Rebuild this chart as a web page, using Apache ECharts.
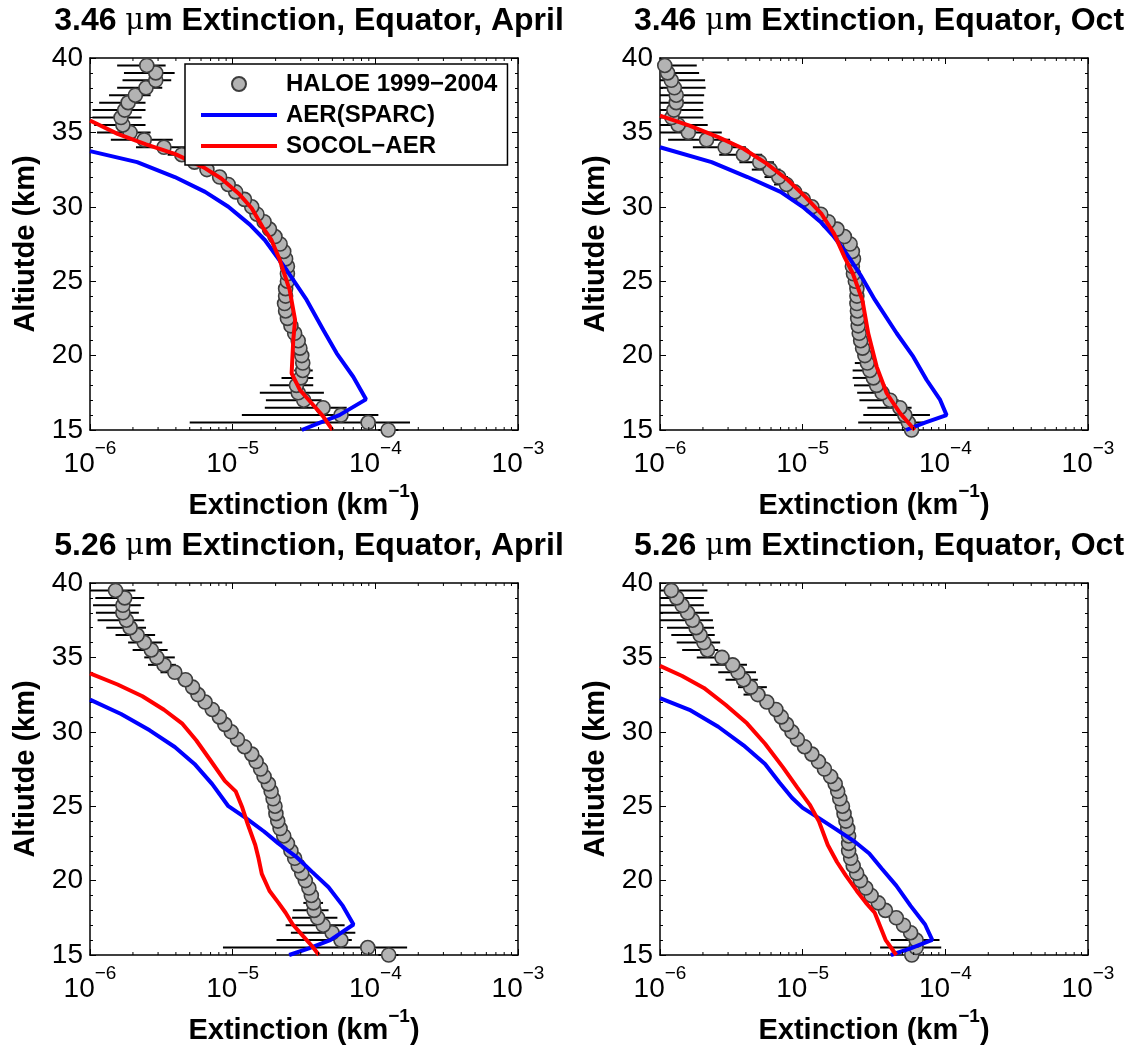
<!DOCTYPE html>
<html>
<head>
<meta charset="utf-8">
<script src="https://cdn.jsdelivr.net/npm/echarts@6/dist/echarts.min.js"></script>
<style>
  html, body { margin: 0; padding: 0; background: #ffffff; }
  #chart { width: 1126px; height: 1051px; }
</style>
</head>
<body>
<div id="chart"></div>
<script>
// HALOE retrieval altitudes (km)
const altitude = [15.0, 15.5, 16.0, 16.5, 17.0, 17.5, 18.0, 18.5, 19.0, 19.5,
  20.0, 20.5, 21.0, 21.5, 22.0, 22.5, 23.0, 23.5, 24.0, 24.5,
  25.0, 25.5, 26.0, 26.5, 27.0, 27.5, 28.0, 28.5, 29.0, 29.5,
  30.0, 30.5, 31.0, 31.5, 32.0, 32.5, 33.0, 33.5, 34.0, 34.5,
  35.0, 35.5, 36.0, 36.5, 37.0, 37.5, 38.0, 38.5, 39.0, 39.5];

// 3.46 um, April: HALOE mean extinction (km^-1) and its low / high range
const haloe346Apr = [1.23e-4, 8.9e-5, 5.75e-5, 4.3e-5, 3.15e-5, 2.88e-5, 2.8e-5, 3.0e-5, 3.1e-5, 3.1e-5,
  3.05e-5, 2.96e-5, 2.88e-5, 2.72e-5, 2.56e-5, 2.42e-5, 2.35e-5, 2.31e-5, 2.35e-5, 2.35e-5,
  2.42e-5, 2.42e-5, 2.42e-5, 2.35e-5, 2.28e-5, 2.15e-5, 1.98e-5, 1.81e-5, 1.66e-5, 1.48e-5,
  1.36e-5, 1.21e-5, 1.05e-5, 9.3e-6, 8.1e-6, 6.6e-6, 5.4e-6, 4.4e-6, 3.3e-6, 2.4e-6,
  1.91e-6, 1.7e-6, 1.65e-6, 1.75e-6, 1.85e-6, 2.08e-6, 2.47e-6, 2.89e-6, 2.89e-6, 2.5e-6];
const haloe346AprLow = [1.05e-4, 5.0e-6, 1.16e-5, 1.68e-5, 1.71e-5, 1.55e-5, 1.82e-5, 2.2e-5, 2.7e-5, 2.8e-5,
  2.8e-5, 2.7e-5, 2.65e-5, 2.5e-5, 2.35e-5, 2.22e-5, 2.16e-5, 2.12e-5, 2.16e-5, 2.16e-5,
  2.22e-5, 2.22e-5, 2.22e-5, 2.16e-5, 2.1e-5, 1.97e-5, 1.82e-5, 1.66e-5, 1.52e-5, 1.36e-5,
  1.25e-5, 1.11e-5, 9.6e-6, 8.5e-6, 7.4e-6, 6.0e-6, 4.8e-6, 3.5e-6, 2.1e-6, 1.4e-6,
  1.12e-6, 1.07e-6, 1.04e-6, 1.04e-6, 1.16e-6, 1.36e-6, 1.55e-6, 1.69e-6, 1.73e-6, 1.55e-6];
const haloe346AprHigh = [1.45e-4, 1.75e-4, 1.05e-4, 6.3e-5, 4.2e-5, 4.36e-5, 3.67e-5, 3.67e-5, 3.64e-5, 3.4e-5,
  3.3e-5, 3.2e-5, 3.1e-5, 2.95e-5, 2.78e-5, 2.63e-5, 2.55e-5, 2.5e-5, 2.55e-5, 2.55e-5,
  2.63e-5, 2.63e-5, 2.63e-5, 2.55e-5, 2.48e-5, 2.34e-5, 2.15e-5, 1.97e-5, 1.8e-5, 1.61e-5,
  1.48e-5, 1.32e-5, 1.15e-5, 1.02e-5, 8.9e-6, 7.3e-6, 6.1e-6, 5.5e-6, 5.2e-6, 3.8e-6,
  2.66e-6, 2.45e-6, 2.3e-6, 2.45e-6, 2.45e-6, 2.66e-6, 3.21e-6, 3.71e-6, 3.92e-6, 3.39e-6];
const aer346AprAlt = [15.0, 15.5, 16.0, 17.06, 18.58, 20.15, 21.72, 23.74, 25.75, 27.77, 28.8, 30.0, 31.0, 32.0, 33.0, 33.74];
const aer346AprExt = [3.05e-5, 4.1e-5, 5.6e-5, 8.6e-5, 7.0e-5, 5.36e-5, 4.32e-5, 3.3e-5, 2.39e-5, 1.68e-5, 1.32e-5, 9.33e-6, 6.41e-6, 3.93e-6, 2.14e-6, 1.0e-6];
const socol346AprAlt = [15.0, 15.9, 16.68, 17.69, 18.81, 21.05, 22.39, 24.4, 26.42, 27.77, 28.64, 29.9, 30.9, 31.9, 32.67, 33.56, 34.2, 34.9, 35.8];
const socol346AprExt = [5.0e-5, 4.32e-5, 3.67e-5, 2.96e-5, 2.59e-5, 2.66e-5, 2.74e-5, 2.51e-5, 2.14e-5, 1.87e-5, 1.62e-5, 1.36e-5, 1.1e-5, 8.32e-6, 6.22e-6, 3.93e-6, 2.47e-6, 1.56e-6, 1.0e-6];

// 3.46 um, October
const haloe346Oct = [5.8e-5, 5.5e-5, 5.2e-5, 4.8e-5, 4.1e-5, 3.6e-5, 3.3e-5, 3.13e-5, 2.96e-5, 2.84e-5,
  2.73e-5, 2.63e-5, 2.55e-5, 2.49e-5, 2.45e-5, 2.43e-5, 2.42e-5, 2.4e-5, 2.4e-5, 2.4e-5,
  2.34e-5, 2.27e-5, 2.23e-5, 2.27e-5, 2.23e-5, 2.15e-5, 1.96e-5, 1.74e-5, 1.51e-5, 1.34e-5,
  1.16e-5, 1.01e-5, 8.8e-6, 7.7e-6, 6.8e-6, 5.9e-6, 5.0e-6, 3.84e-6, 2.86e-6, 2.12e-6,
  1.58e-6, 1.34e-6, 1.21e-6, 1.25e-6, 1.3e-6, 1.3e-6, 1.26e-6, 1.2e-6, 1.13e-6, 1.08e-6];
const haloe346OctLow = [5.0e-5, 2.45e-5, 2.66e-5, 2.84e-5, 2.5e-5, 2.41e-5, 2.29e-5, 2.24e-5, 2.24e-5, 2.32e-5,
  2.5e-5, 2.42e-5, 2.35e-5, 2.29e-5, 2.25e-5, 2.24e-5, 2.23e-5, 2.21e-5, 2.21e-5, 2.21e-5,
  2.15e-5, 2.09e-5, 2.05e-5, 2.09e-5, 2.05e-5, 1.98e-5, 1.8e-5, 1.6e-5, 1.39e-5, 1.23e-5,
  1.06e-5, 9.2e-6, 8.0e-6, 6.3e-6, 5.4e-6, 4.4e-6, 3.6e-6, 2.6e-6, 1.7e-6, 1.14e-6,
  1.0e-6, 1.0e-6, 1.0e-6, 1.0e-6, 1.0e-6, 1.0e-6, 1.0e-6, 1.0e-6, 1.0e-6, 1.0e-6];
const haloe346OctHigh = [6.6e-5, 7.0e-5, 7.8e-5, 5.8e-5, 4.7e-5, 4.1e-5, 3.8e-5, 3.6e-5, 3.4e-5, 3.25e-5,
  3.0e-5, 2.86e-5, 2.77e-5, 2.7e-5, 2.66e-5, 2.64e-5, 2.63e-5, 2.61e-5, 2.61e-5, 2.61e-5,
  2.54e-5, 2.46e-5, 2.42e-5, 2.46e-5, 2.42e-5, 2.34e-5, 2.13e-5, 1.9e-5, 1.65e-5, 1.46e-5,
  1.27e-5, 1.1e-5, 9.6e-6, 8.6e-6, 7.9e-6, 7.0e-6, 6.3e-6, 5.2e-6, 4.0e-6, 3.1e-6,
  2.71e-6, 2.16e-6, 2.01e-6, 2.01e-6, 2.01e-6, 2.04e-6, 2.09e-6, 2.07e-6, 1.88e-6, 1.81e-6];
const aer346OctAlt = [15.0, 15.5, 16.0, 17.02, 18.36, 19.93, 21.5, 23.74, 25.4, 26.4, 27.3, 28.1, 29.0, 30.0, 31.0, 32.0, 33.0, 34.0];
const aer346OctExt = [5.3e-5, 7.2e-5, 1.02e-4, 9.2e-5, 7.4e-5, 5.96e-5, 4.56e-5, 3.21e-5, 2.55e-5, 2.18e-5, 1.88e-5, 1.62e-5, 1.33e-5, 1.0e-5, 7.0e-6, 4.1e-6, 2.3e-6, 1.0e-6];
const socol346OctAlt = [15.0, 16.13, 17.47, 19.26, 21.5, 23.74, 25.5, 26.6, 28.2, 29.5, 30.65, 31.77, 32.9, 33.9, 34.68, 35.46, 36.13];
const socol346OctExt = [6.1e-5, 4.81e-5, 3.88e-5, 3.3e-5, 2.88e-5, 2.62e-5, 2.25e-5, 1.97e-5, 1.66e-5, 1.36e-5, 1.05e-5, 7.94e-6, 5.6e-6, 3.85e-6, 2.56e-6, 1.61e-6, 1.0e-6];

// 5.26 um, April
const haloe526Apr = [1.24e-4, 8.85e-5, 5.74e-5, 4.98e-5, 4.31e-5, 3.94e-5, 3.72e-5, 3.68e-5, 3.56e-5, 3.42e-5,
  3.23e-5, 3.05e-5, 2.88e-5, 2.72e-5, 2.56e-5, 2.42e-5, 2.28e-5, 2.15e-5, 2.07e-5, 2.01e-5,
  1.98e-5, 1.92e-5, 1.86e-5, 1.78e-5, 1.66e-5, 1.57e-5, 1.46e-5, 1.36e-5, 1.21e-5, 1.08e-5,
  9.77e-6, 8.81e-6, 8.07e-6, 7.19e-6, 6.41e-6, 5.71e-6, 5.24e-6, 4.67e-6, 3.93e-6, 3.3e-6,
  2.94e-6, 2.69e-6, 2.4e-6, 2.14e-6, 1.91e-6, 1.8e-6, 1.7e-6, 1.7e-6, 1.75e-6, 1.51e-6];
const haloe526AprLow = [1.05e-4, 8.55e-6, 2.03e-5, 2.56e-5, 2.35e-5, 2.61e-5, 2.64e-5, 3.13e-5, 3.2e-5, 3.1e-5,
  2.95e-5, 2.78e-5, 2.63e-5, 2.48e-5, 2.34e-5, 2.21e-5, 2.08e-5, 1.96e-5, 1.89e-5, 1.83e-5,
  1.81e-5, 1.75e-5, 1.7e-5, 1.62e-5, 1.52e-5, 1.43e-5, 1.33e-5, 1.24e-5, 1.1e-5, 9.8e-6,
  8.9e-6, 8.0e-6, 7.3e-6, 6.5e-6, 5.8e-6, 5.2e-6, 4.7e-6, 4.1e-6, 3.12e-6, 2.55e-6,
  2.4e-6, 1.99e-6, 1.85e-6, 1.51e-6, 1.3e-6, 1.13e-6, 1.1e-6, 1.05e-6, 1.09e-6, 1.0e-6];
const haloe526AprHigh = [1.45e-4, 1.67e-4, 6.84e-5, 7.24e-5, 6.09e-5, 5.42e-5, 4.7e-5, 4.3e-5, 3.95e-5, 3.75e-5,
  3.54e-5, 3.34e-5, 3.16e-5, 2.98e-5, 2.8e-5, 2.65e-5, 2.5e-5, 2.36e-5, 2.27e-5, 2.2e-5,
  2.17e-5, 2.1e-5, 2.04e-5, 1.95e-5, 1.82e-5, 1.72e-5, 1.6e-5, 1.49e-5, 1.33e-5, 1.18e-5,
  1.07e-5, 9.7e-6, 8.9e-6, 7.9e-6, 7.0e-6, 6.3e-6, 5.8e-6, 5.2e-6, 4.4e-6, 4.0e-6,
  3.93e-6, 3.5e-6, 3.21e-6, 2.86e-6, 2.47e-6, 2.4e-6, 2.2e-6, 2.27e-6, 2.4e-6, 2.08e-6];
const aer526AprAlt = [15.0, 15.45, 16.0, 17.05, 18.3, 19.55, 20.57, 21.6, 22.5, 23.3, 24.2, 25.0, 26.48, 27.84, 28.98, 30.1, 31.2, 32.16];
const aer526AprExt = [2.49e-5, 3.42e-5, 4.83e-5, 7.03e-5, 5.92e-5, 4.7e-5, 3.62e-5, 2.79e-5, 2.09e-5, 1.66e-5, 1.24e-5, 9.33e-6, 7.19e-6, 5.4e-6, 3.93e-6, 2.62e-6, 1.65e-6, 1.0e-6];
const socol526AprAlt = [15.0, 15.57, 16.25, 17.05, 17.84, 18.52, 19.32, 20.45, 21.48, 22.39, 23.75, 24.89, 26.0, 26.7, 28.07, 29.43, 30.57, 31.48, 32.39, 33.18, 33.93];
const socol526AprExt = [4.02e-5, 3.62e-5, 3.13e-5, 2.64e-5, 2.35e-5, 2.09e-5, 1.81e-5, 1.6e-5, 1.52e-5, 1.44e-5, 1.28e-5, 1.17e-5, 1.05e-5, 8.81e-6, 7.0e-6, 5.55e-6, 4.41e-6, 3.3e-6, 2.33e-6, 1.56e-6, 1.0e-6];

// 5.26 um, October
const haloe526Oct = [5.82e-5, 6.24e-5, 6.24e-5, 5.71e-5, 5.09e-5, 4.53e-5, 3.8e-5, 3.39e-5, 3.02e-5, 2.77e-5,
  2.54e-5, 2.39e-5, 2.26e-5, 2.17e-5, 2.1e-5, 2.1e-5, 2.1e-5, 2.07e-5, 2.01e-5, 1.95e-5,
  1.9e-5, 1.82e-5, 1.76e-5, 1.69e-5, 1.57e-5, 1.42e-5, 1.29e-5, 1.16e-5, 1.03e-5, 9.18e-6,
  8.41e-6, 7.71e-6, 7.08e-6, 6.49e-6, 5.61e-6, 4.85e-6, 4.32e-6, 3.85e-6, 3.52e-6, 3.23e-6,
  2.72e-6, 2.15e-6, 2.03e-6, 1.91e-6, 1.79e-6, 1.69e-6, 1.56e-6, 1.43e-6, 1.31e-6, 1.2e-6];
const haloe526OctLow = [5.2e-5, 3.49e-5, 4.15e-5, 5.2e-5, 4.65e-5, 4.13e-5, 3.47e-5, 3.1e-5, 2.76e-5, 2.53e-5,
  2.32e-5, 2.18e-5, 2.06e-5, 1.98e-5, 1.92e-5, 1.92e-5, 1.92e-5, 1.89e-5, 1.83e-5, 1.78e-5,
  1.73e-5, 1.66e-5, 1.6e-5, 1.54e-5, 1.43e-5, 1.3e-5, 1.18e-5, 1.06e-5, 9.4e-6, 8.4e-6,
  7.7e-6, 7.0e-6, 6.5e-6, 5.9e-6, 5.1e-6, 3.85e-6, 3.52e-6, 2.88e-6, 2.56e-6, 2.25e-6,
  1.81e-6, 1.43e-6, 1.31e-6, 1.2e-6, 1.12e-6, 1.0e-6, 1.0e-6, 1.0e-6, 1.0e-6, 1.0e-6];
const haloe526OctHigh = [6.5e-5, 9.36e-5, 9.1e-5, 6.3e-5, 5.55e-5, 4.95e-5, 4.15e-5, 3.7e-5, 3.3e-5, 3.03e-5,
  2.77e-5, 2.61e-5, 2.47e-5, 2.37e-5, 2.3e-5, 2.3e-5, 2.3e-5, 2.26e-5, 2.2e-5, 2.13e-5,
  2.08e-5, 1.99e-5, 1.92e-5, 1.85e-5, 1.72e-5, 1.55e-5, 1.41e-5, 1.27e-5, 1.13e-5, 1.0e-5,
  9.2e-6, 8.4e-6, 7.7e-6, 7.1e-6, 6.1e-6, 5.5e-6, 5.61e-6, 4.85e-6, 4.71e-6, 4.07e-6,
  3.05e-6, 2.56e-6, 2.64e-6, 2.42e-6, 2.39e-6, 2.35e-6, 2.21e-6, 2.03e-6, 2.03e-6, 2.15e-6];
const aer526OctAlt = [15.0, 15.45, 16.02, 17.05, 18.3, 19.66, 20.8, 21.82, 22.61, 23.41, 24.2, 24.89, 25.57, 26.59, 27.84, 29.09, 30.34, 31.48, 32.27];
const aer526OctExt = [4.15e-5, 5.71e-5, 8.09e-5, 7.21e-5, 5.71e-5, 4.53e-5, 3.59e-5, 2.93e-5, 2.32e-5, 1.74e-5, 1.3e-5, 1.0e-5, 8.41e-6, 6.87e-6, 5.45e-6, 3.85e-6, 2.56e-6, 1.61e-6, 1.0e-6];
const socol526OctAlt = [15.0, 16.02, 16.93, 17.84, 18.52, 19.32, 20.34, 21.25, 22.39, 23.98, 25.11, 26.25, 27.61, 29.2, 30.57, 31.82, 32.95, 33.75, 34.43];
const socol526OctExt = [4.53e-5, 3.81e-5, 3.49e-5, 3.2e-5, 2.77e-5, 2.39e-5, 2.01e-5, 1.74e-5, 1.5e-5, 1.3e-5, 1.12e-5, 9.18e-6, 7.28e-6, 5.45e-6, 4.07e-6, 2.88e-6, 2.03e-6, 1.43e-6, 1.0e-6];

// Axis ticks and labels
const xDecades = [1e-6, 1e-5, 1e-4, 1e-3];
const xTickExponents = ['\u22126', '\u22125', '\u22124', '\u22123'];
const xMinorMultipliers = [2, 3, 4, 5, 6, 7, 8, 9];
const yTicks = [15, 20, 25, 30, 35, 40];

const seriesNames = ['HALOE 1999\u22122004', 'AER(SPARC)', 'SOCOL\u2212AER'];
const panelTitles = ['3.46|April', '3.46|Oct', '5.26|April', '5.26|Oct'];

const FONT = 'Liberation Sans';
const X_MIN = xDecades[0], X_MAX = xDecades[xDecades.length - 1];
const Y_MIN = yTicks[0], Y_MAX = yTicks[yTicks.length - 1];

const panels = [
  { haloe: haloe346Apr, low: haloe346AprLow, high: haloe346AprHigh, aerAlt: aer346AprAlt, aerExt: aer346AprExt, socolAlt: socol346AprAlt, socolExt: socol346AprExt },
  { haloe: haloe346Oct, low: haloe346OctLow, high: haloe346OctHigh, aerAlt: aer346OctAlt, aerExt: aer346OctExt, socolAlt: socol346OctAlt, socolExt: socol346OctExt },
  { haloe: haloe526Apr, low: haloe526AprLow, high: haloe526AprHigh, aerAlt: aer526AprAlt, aerExt: aer526AprExt, socolAlt: socol526AprAlt, socolExt: socol526AprExt },
  { haloe: haloe526Oct, low: haloe526OctLow, high: haloe526OctHigh, aerAlt: aer526OctAlt, aerExt: aer526OctExt, socolAlt: socol526OctAlt, socolExt: socol526OctExt }
];

// plot boxes (px)
const grids = [
  { left: 90, top: 58, width: 428, height: 372 },
  { left: 660, top: 58, width: 428, height: 372 },
  { left: 90, top: 583, width: 428, height: 372 },
  { left: 660, top: 583, width: 428, height: 372 }
];

const xMinorTicks = [];
xDecades.slice(0, -1).forEach(d => xMinorMultipliers.forEach(m => xMinorTicks.push(d * m)));

const black = '#000000';
// thin bar used as the legend sample for the model curves
const legendLineIcon = 'path://M0,0L76,0L76,4L0,4Z';

function xTickFormatter(value) {
  let idx = 0, best = Infinity;
  xDecades.forEach((d, i) => {
    const diff = Math.abs(Math.log10(value) - Math.log10(d));
    if (diff < best) { best = diff; idx = i; }
  });
  return '{base|10}{sup|' + xTickExponents[idx] + '}';
}

const xAxes = [], yAxes = [], series = [], titles = [];

grids.forEach((g, i) => {
  const [wave, month] = panelTitles[i].split('|');
  titles.push({
    text: '{b|' + wave + ' }{mu|\u03bc}{b|m Extinction, Equator, ' + month + '}',
    left: g.left + g.width / 2,
    top: g.top - 58,
    textAlign: 'center',
    textStyle: {
      rich: {
        b: { fontFamily: FONT, fontWeight: 'bold', fontSize: 32, color: black },
        mu: { fontFamily: 'DejaVu Serif', fontWeight: 'normal', fontSize: 29, color: black }
      }
    }
  });

  const axisLine = { show: true, lineStyle: { color: black, width: 1.5 } };
  const axisTick = { show: true, inside: true, length: 6, lineStyle: { color: black, width: 1 } };

  xAxes.push({
    type: 'log', logBase: 10, gridIndex: i, position: 'bottom',
    min: X_MIN, max: X_MAX,
    axisLine, axisTick, splitLine: { show: false },
    axisLabel: {
      show: true, margin: 9, showMinLabel: true, showMaxLabel: true, hideOverlap: false,
      formatter: xTickFormatter,
      rich: {
        base: { fontFamily: FONT, fontSize: 28, color: black, padding: [11, 0, 0, 0] },
        sup: { fontFamily: FONT, fontSize: 19, color: black, verticalAlign: 'top' }
      }
    },
    name: '{b|Extinction (km}{s|\u22121}{b|)}',
    nameLocation: 'middle', nameGap: 52,
    nameTextStyle: {
      rich: {
        b: { fontFamily: FONT, fontWeight: 'bold', fontSize: 29, color: black, padding: [9, 0, 0, 0] },
        s: { fontFamily: FONT, fontWeight: 'bold', fontSize: 19, color: black, verticalAlign: 'top' }
      }
    }
  });
  xAxes.push({
    type: 'log', logBase: 10, gridIndex: i, position: 'top',
    min: X_MIN, max: X_MAX,
    axisLine, axisTick, splitLine: { show: false }, axisLabel: { show: false }
  });

  const minorTick = { show: true, splitNumber: 5, length: 3, lineStyle: { color: black, width: 1 } };
  yAxes.push({
    type: 'value', gridIndex: i, position: 'left',
    min: Y_MIN, max: Y_MAX, interval: yTicks[1] - yTicks[0],
    axisLine, axisTick, minorTick, splitLine: { show: false },
    axisLabel: { fontFamily: FONT, fontSize: 28, color: black, margin: 7 },
    name: 'Altiutde (km)', nameLocation: 'middle', nameGap: 50,
    nameTextStyle: { fontFamily: FONT, fontWeight: 'bold', fontSize: 29, color: black }
  });
  yAxes.push({
    type: 'value', gridIndex: i, position: 'right',
    min: Y_MIN, max: Y_MAX, interval: yTicks[1] - yTicks[0],
    axisLine, axisTick, minorTick, splitLine: { show: false }, axisLabel: { show: false }
  });

  const p = panels[i];
  const xi = 2 * i, yi = 2 * i;
  const named = i === 0;

  // horizontal HALOE range bars
  series.push({
    type: 'custom', xAxisIndex: xi, yAxisIndex: yi, z: 1, silent: true,
    data: altitude.map((a, k) => [p.low[k], p.high[k], a]),
    encode: { x: [0, 1], y: 2 },
    renderItem: (params, api) => {
      const a = api.coord([api.value(0), api.value(2)]);
      const b = api.coord([api.value(1), api.value(2)]);
      return { type: 'line', shape: { x1: a[0], y1: a[1], x2: b[0], y2: b[1] }, style: { stroke: black, lineWidth: 2 } };
    }
  });

  series.push({
    type: 'scatter', name: named ? seriesNames[0] : 'haloe' + i,
    xAxisIndex: xi, yAxisIndex: yi, z: 2, silent: true,
    symbol: 'circle', symbolSize: 14,
    itemStyle: { color: '#b3b3b3', borderColor: '#3d3d3d', borderWidth: 1.6, opacity: 1 },
    data: altitude.map((a, k) => [p.haloe[k], a])
  });

  series.push({
    type: 'line', name: named ? seriesNames[1] : 'aer' + i,
    xAxisIndex: xi, yAxisIndex: yi, z: 3, silent: true,
    symbol: 'none', showSymbol: false,
    lineStyle: { color: '#0000ff', width: 4 }, itemStyle: { color: '#0000ff' },
    data: p.aerAlt.map((a, k) => [p.aerExt[k], a])
  });

  series.push({
    type: 'line', name: named ? seriesNames[2] : 'socol' + i,
    xAxisIndex: xi, yAxisIndex: yi, z: 4, silent: true,
    symbol: 'none', showSymbol: false,
    lineStyle: { color: '#ff0000', width: 4 }, itemStyle: { color: '#ff0000' },
    data: p.socolAlt.map((a, k) => [p.socolExt[k], a])
  });

  // minor log ticks on bottom and top edges
  series.push({
    type: 'custom', xAxisIndex: xi, yAxisIndex: yi, z: 5, silent: true,
    data: xMinorTicks.map(v => [v, Y_MIN]),
    encode: { x: 0, y: 1 },
    renderItem: (params, api) => {
      const bot = api.coord([api.value(0), Y_MIN]);
      const top = api.coord([api.value(0), Y_MAX]);
      return {
        type: 'group',
        children: [
          { type: 'line', shape: { x1: bot[0], y1: bot[1], x2: bot[0], y2: bot[1] - 3 }, style: { stroke: black, lineWidth: 1 } },
          { type: 'line', shape: { x1: top[0], y1: top[1], x2: top[0], y2: top[1] + 3 }, style: { stroke: black, lineWidth: 1 } }
        ]
      };
    }
  });
});

const option = {
  backgroundColor: '#ffffff',
  animation: false,
  title: titles,
  grid: grids.map(g => Object.assign({ containLabel: false }, g)),
  xAxis: xAxes,
  yAxis: yAxes,
  legend: {
    orient: 'vertical',
    left: 185, top: 64,
    padding: [8, 10, 7, 16],
    itemGap: 7,
    itemWidth: 76, itemHeight: 14,
    selectedMode: false,
    backgroundColor: '#ffffff',
    borderColor: black, borderWidth: 1.5, borderRadius: 0,
    textStyle: { fontFamily: FONT, fontWeight: 'bold', fontSize: 24, color: black, padding: [0, 0, 0, 4] },
    data: [
      { name: seriesNames[0], icon: 'circle' },
      { name: seriesNames[1], icon: legendLineIcon },
      { name: seriesNames[2], icon: legendLineIcon }
    ],
    z: 10
  },
  series
};

const chart = echarts.init(document.getElementById('chart'), null, { renderer: 'canvas' });
chart.setOption(option);
</script>
</body>
</html>
